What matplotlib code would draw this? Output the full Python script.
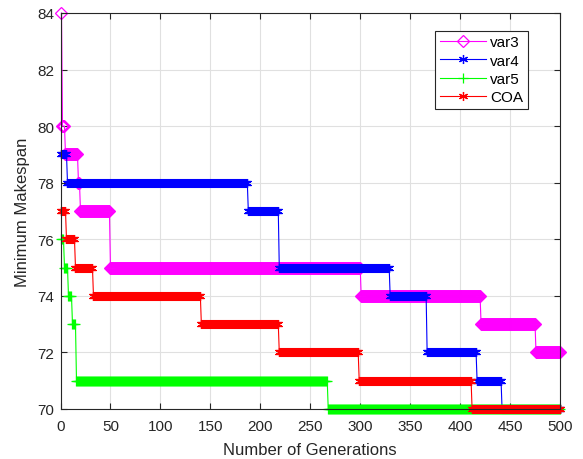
import numpy as np
import matplotlib
matplotlib.use("Agg")
import matplotlib.pyplot as plt

n_generations = 500

# step functions: generation where each value starts, and that value
var3_starts = [1, 2, 5, 18, 20, 50, 301, 421, 476]
var3_values = [84, 80, 79, 78, 77, 75, 74, 73, 72]

var4_starts = [1, 7, 188, 219, 330, 367, 417, 442]
var4_values = [79, 78, 77, 75, 74, 72, 71, 70]

var5_starts = [1, 4, 8, 12, 16, 268]
var5_values = [76, 75, 74, 73, 71, 70]

coa_starts = [1, 6, 15, 33, 141, 219, 299, 412]
coa_values = [77, 76, 75, 74, 73, 72, 71, 70]

labels = ["var3", "var4", "var5", "COA"]
x_ticks = [0, 50, 100, 150, 200, 250, 300, 350, 400, 450, 500]
y_ticks = [70, 72, 74, 76, 78, 80, 82, 84]

gens = np.arange(1, n_generations + 1)


def expand(starts, values):
    idx = np.searchsorted(np.asarray(starts), gens, side="right") - 1
    return np.asarray(values)[idx]


plt.rcParams["font.family"] = ["Liberation Sans", "DejaVu Sans"]

fig = plt.figure(figsize=(5.83, 4.60), dpi=100)
ax = fig.add_axes([60.5 / 583, 1 - 410 / 460, 499.5 / 583, 396 / 460])

asterisk = (6, 2, 0)
series = [
    (var3_starts, var3_values, (1, 0, 1), "D", 6.0, "none"),
    (var4_starts, var4_values, (0, 0, 1), asterisk, 6.5, (0, 0, 1)),
    (var5_starts, var5_values, (0, 1, 0), "+", 7.0, (0, 1, 0)),
    (coa_starts, coa_values, (1, 0, 0), asterisk, 6.5, (1, 0, 0)),
]

for (st, vals, col, mk, ms, mfc), lab in zip(series, labels):
    ax.plot(gens, expand(st, vals), color=col, lw=0.8, marker=mk, ms=ms,
            mfc=mfc, mec=col, mew=0.9, label=lab, clip_on=False)

ax.set_xlim(0, 500)
ax.set_ylim(70, 84)
ax.set_xticks(x_ticks)
ax.set_yticks(y_ticks)
ax.grid(True, color=(0.88, 0.88, 0.88), lw=0.8)
ax.set_axisbelow(True)
ax.tick_params(direction="in", top=True, right=True, length=4, width=0.8,
               labelsize=11, colors=(0.15, 0.15, 0.15))
ax.tick_params(axis="x", pad=7)
ax.tick_params(axis="y", pad=4.5)
for sp in ax.spines.values():
    sp.set_color((0.15, 0.15, 0.15))
    sp.set_linewidth(0.8)

ax.set_xlabel("Number of Generations", fontsize=12, color=(0.15, 0.15, 0.15), labelpad=7)
ax.set_ylabel("Minimum Makespan", fontsize=12, color=(0.15, 0.15, 0.15), labelpad=5)

leg = ax.legend(loc="upper right", bbox_to_anchor=(0.936, 0.955), fontsize=11,
                fancybox=False, framealpha=1, edgecolor=(0.15, 0.15, 0.15),
                handlelength=3.0, borderpad=0.3, labelspacing=0.28,
                handletextpad=0.3, borderaxespad=0)
leg.get_frame().set_linewidth(0.8)

fig.savefig("out.png", dpi=100)
